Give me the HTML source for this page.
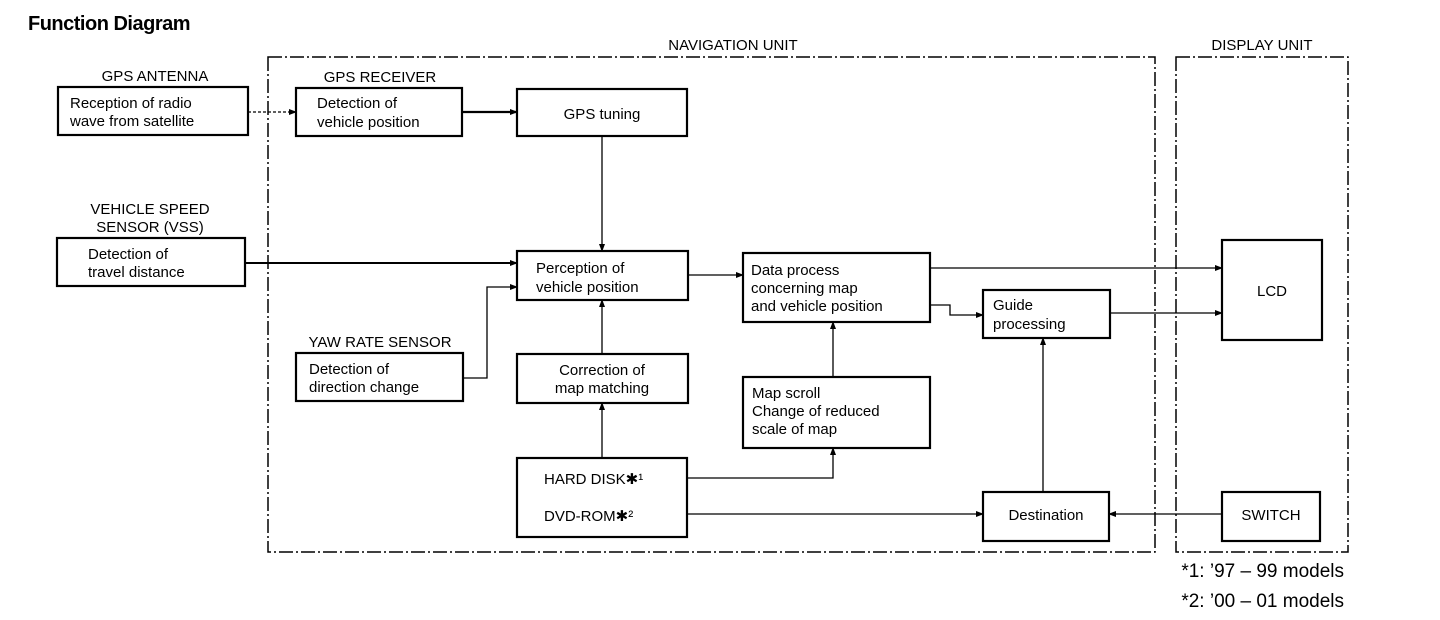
<!DOCTYPE html>
<html><head><meta charset="utf-8"><style>
html,body{margin:0;padding:0;background:#fff;}
svg{display:block;}
text{font-family:"Liberation Sans",sans-serif;fill:#000;font-size:15px;}
.b{font-weight:bold;}
</style></head><body>
<svg width="1440" height="620" viewBox="0 0 1440 620" xmlns="http://www.w3.org/2000/svg">
<defs><marker id="a" markerWidth="8" markerHeight="6" refX="7" refY="3" orient="auto" markerUnits="userSpaceOnUse"><path d="M0,0 L8,3 L0,6 z" fill="#000"/></marker></defs>
<text x="28" y="30" class="b" style="font-size:20px;letter-spacing:-0.5px">Function Diagram</text>
<text x="733" y="50" text-anchor="middle">NAVIGATION UNIT</text>
<text x="1262" y="50" text-anchor="middle">DISPLAY UNIT</text>
<g fill="none" stroke="#000" stroke-width="1.5" stroke-dasharray="14,3,2,3">
<rect x="268" y="57" width="887" height="495"/>
<rect x="1176" y="57" width="172" height="495"/>
</g>
<g fill="#fff" stroke="#000" stroke-width="2.2">
<rect x="58" y="87" width="190" height="48"/>
<rect x="296" y="88" width="166" height="48"/>
<rect x="517" y="89" width="170" height="47"/>
<rect x="57" y="238" width="188" height="48"/>
<rect x="517" y="251" width="171" height="49"/>
<rect x="296" y="353" width="167" height="48"/>
<rect x="517" y="354" width="171" height="49"/>
<rect x="743" y="253" width="187" height="69"/>
<rect x="983" y="290" width="127" height="48"/>
<rect x="1222" y="240" width="100" height="100"/>
<rect x="743" y="377" width="187" height="71"/>
<rect x="517" y="458" width="170" height="79"/>
<rect x="983" y="492" width="126" height="49"/>
<rect x="1222" y="492" width="98" height="49"/>
</g>
<g fill="none" stroke="#000" stroke-width="1.3" marker-end="url(#a)">
<path d="M248 112 H296" stroke-dasharray="3,2"/>
<path d="M462 112 H517" stroke-width="2.2"/>
<path d="M602 136 V251"/>
<path d="M245 263 H517" stroke-width="2"/>
<path d="M463 378 H487 V287 H517"/>
<path d="M602 354 V300"/>
<path d="M602 458 V403"/>
<path d="M688 275 H743"/>
<path d="M930 268 H1222"/>
<path d="M930 305 H950 V315 H983"/>
<path d="M1110 313 H1222"/>
<path d="M833 377 V322"/>
<path d="M687 478 H833 V448"/>
<path d="M687 514 H983"/>
<path d="M1043 492 V338"/>
<path d="M1222 514 H1109"/>
</g>
<text x="155" y="81" text-anchor="middle">GPS ANTENNA</text>
<text x="70" y="108">Reception of radio</text>
<text x="70" y="126">wave from satellite</text>
<text x="380" y="82" text-anchor="middle">GPS RECEIVER</text>
<text x="317" y="108">Detection of</text>
<text x="317" y="127">vehicle position</text>
<text x="602" y="119" text-anchor="middle">GPS tuning</text>
<text x="150" y="214" text-anchor="middle">VEHICLE SPEED</text>
<text x="150" y="232" text-anchor="middle">SENSOR (VSS)</text>
<text x="88" y="259">Detection of</text>
<text x="88" y="277">travel distance</text>
<text x="536" y="273">Perception of</text>
<text x="536" y="292">vehicle position</text>
<text x="380" y="347" text-anchor="middle">YAW RATE SENSOR</text>
<text x="309" y="374">Detection of</text>
<text x="309" y="392">direction change</text>
<text x="602" y="375" text-anchor="middle">Correction of</text>
<text x="602" y="393" text-anchor="middle">map matching</text>
<text x="751" y="275">Data process</text>
<text x="751" y="293">concerning map</text>
<text x="751" y="311">and vehicle position</text>
<text x="993" y="310">Guide</text>
<text x="993" y="329">processing</text>
<text x="1272" y="296" text-anchor="middle">LCD</text>
<text x="752" y="398">Map scroll</text>
<text x="752" y="416">Change of reduced</text>
<text x="752" y="434">scale of map</text>
<text x="544" y="484">HARD DISK✱¹</text>
<text x="544" y="521">DVD-ROM✱²</text>
<text x="1046" y="520" text-anchor="middle">Destination</text>
<text x="1271" y="520" text-anchor="middle">SWITCH</text>
<text x="1344" y="577" text-anchor="end" style="font-size:19px">*1: ’97 – 99 models</text>
<text x="1344" y="607" text-anchor="end" style="font-size:19px">*2: ’00 – 01 models</text>
</svg>
</body></html>
